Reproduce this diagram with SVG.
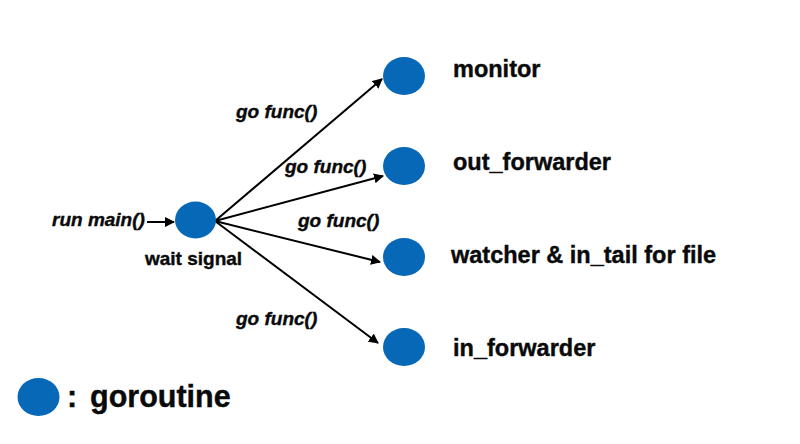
<svg xmlns="http://www.w3.org/2000/svg" width="800" height="444" viewBox="0 0 800 444">
<style>
.g{fill:#0668B6}
.lbl{font-family:"Liberation Sans",Arial,sans-serif;font-weight:bold;fill:#0a0a0a;stroke:#0a0a0a;stroke-width:0.4}
.it{font-style:italic;font-size:19px}
.nm{font-size:23.5px}
.conn{stroke:#000;stroke-width:2;fill:none;marker-end:url(#ah)}
</style>
<defs>
<marker id="ah" viewBox="0 0 10 10" refX="9" refY="5" markerWidth="5" markerHeight="5" markerUnits="strokeWidth" orient="auto">
<path d="M0,0 L10,5 L0,10 z" fill="#000"/>
</marker>
</defs>
<rect width="800" height="444" fill="#fff"/>
<g id="connectors">
<line class="conn" x1="147" y1="222" x2="174" y2="222"/>
<line class="conn" x1="215" y1="221" x2="382" y2="79"/>
<line class="conn" x1="215" y1="221" x2="383" y2="176"/>
<line class="conn" x1="215" y1="221" x2="380" y2="262"/>
<line class="conn" x1="215" y1="221" x2="378" y2="343"/>
<text class="lbl it" x="236" y="118">go func()</text>
<text class="lbl it" x="285" y="173">go func()</text>
<text class="lbl it" x="298" y="227">go func()</text>
<text class="lbl it" x="236" y="325">go func()</text>
</g>
<g id="main">
<text class="lbl it" x="52" y="226">run main()</text>
<ellipse class="g" cx="195.5" cy="220" rx="20.5" ry="18.5"/>
<text class="lbl" x="145" y="265" font-size="19">wait signal</text>
</g>
<g id="monitor">
<ellipse class="g" cx="404" cy="76" rx="21" ry="19"/>
<text class="lbl nm" x="453" y="77">monitor</text>
</g>
<g id="out_forwarder">
<ellipse class="g" cx="404" cy="166" rx="21" ry="19"/>
<text class="lbl nm" x="453" y="170">out_forwarder</text>
</g>
<g id="watcher">
<ellipse class="g" cx="404" cy="257" rx="21" ry="19"/>
<text class="lbl nm" x="451" y="263">watcher &amp; in_tail for file</text>
</g>
<g id="in_forwarder">
<ellipse class="g" cx="404" cy="347" rx="21" ry="19"/>
<text class="lbl nm" x="453" y="356">in_forwarder</text>
</g>
<g id="legend">
<ellipse class="g" cx="38.5" cy="397" rx="21" ry="19"/>
<text class="lbl" x="67" y="407" font-size="30.5">:<tspan x="90">goroutine</tspan></text>
</g>
</svg>
